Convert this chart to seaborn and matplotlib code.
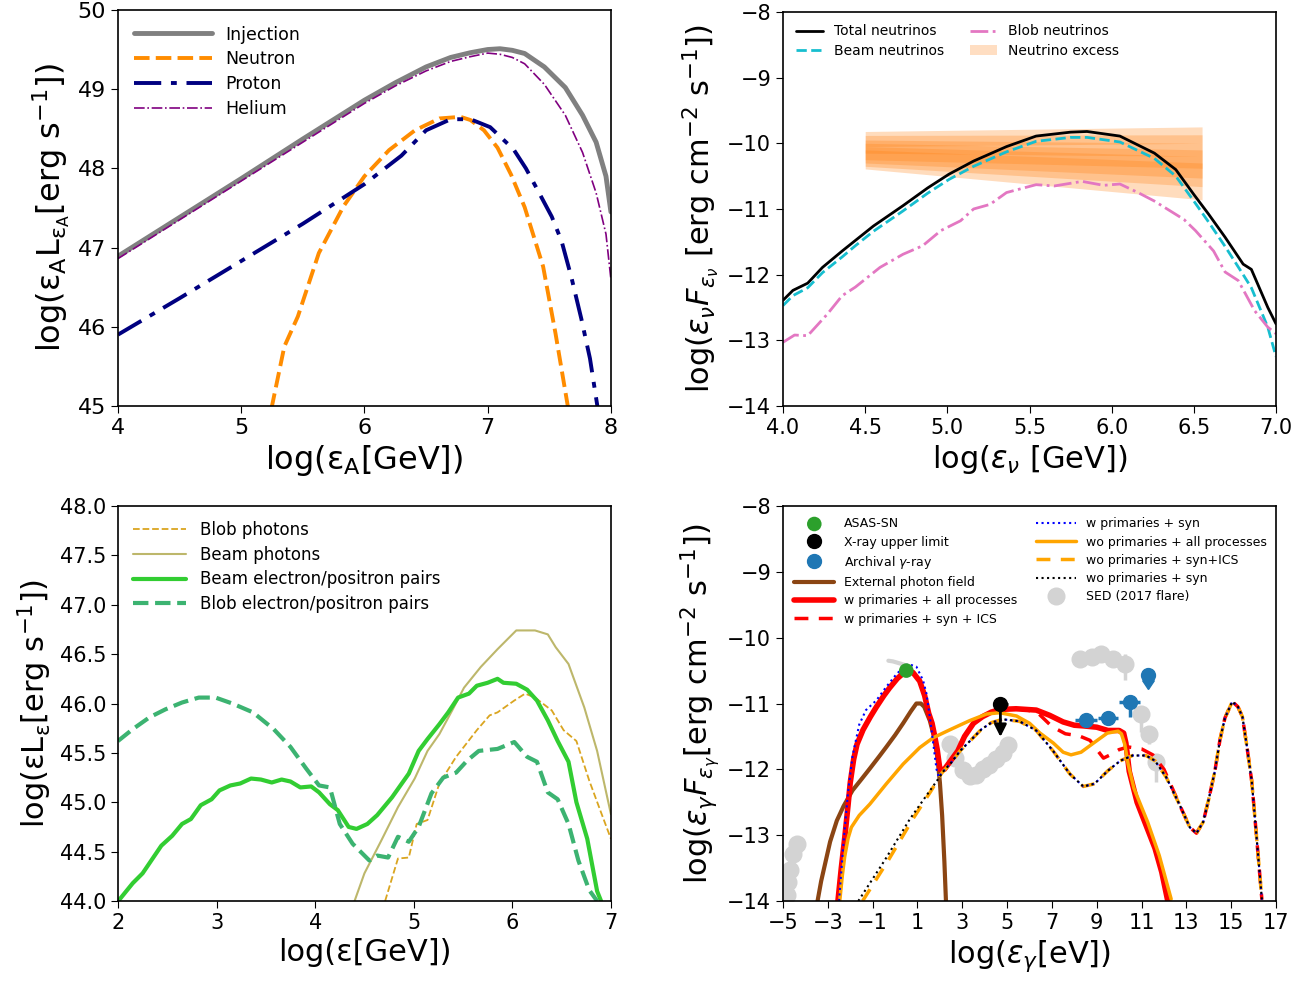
import numpy as np
import pandas as pd
import seaborn as sns
import matplotlib.pyplot as plt

# ---------------- panel a: nuclei spectra ----------------
inj_x = [4.0, 4.5, 5.0, 5.5, 6.0, 6.25, 6.5, 6.7, 6.86, 7.0, 7.1, 7.2, 7.3, 7.46, 7.63, 7.77, 7.88, 7.96, 8.0]
inj_y = [46.89, 47.38, 47.87, 48.37, 48.86, 49.08, 49.28, 49.40, 49.46, 49.50, 49.51, 49.49, 49.45, 49.28, 49.02, 48.67, 48.33, 47.9, 47.45]
he_y = [46.86, 47.35, 47.84, 48.33, 48.82, 49.04, 49.23, 49.35, 49.41, 49.455, 49.44, 49.40, 49.32, 49.06, 48.67, 48.2, 47.69, 47.17, 46.6]
neu_x = [5.2, 5.25, 5.35, 5.46, 5.63, 5.83, 6.0, 6.2, 6.41, 6.61, 6.78, 6.86, 6.97, 7.08, 7.19, 7.3, 7.39, 7.45, 7.55, 7.65, 7.7]
neu_y = [44.7, 45.0, 45.75, 46.13, 46.93, 47.52, 47.9, 48.23, 48.48, 48.63, 48.65, 48.61, 48.48, 48.26, 47.92, 47.51, 47.06, 46.76, 45.92, 45.0, 44.6]
pro_x = [4.0, 4.5, 5.0, 5.5, 6.0, 6.3, 6.5, 6.7, 6.86, 7.02, 7.21, 7.31, 7.39, 7.52, 7.6, 7.68, 7.76, 7.83, 7.89, 7.92]
pro_y = [45.9, 46.36, 46.83, 47.3, 47.8, 48.16, 48.48, 48.62, 48.62, 48.52, 48.24, 48.0, 47.77, 47.39, 47.08, 46.62, 46.1, 45.6, 45.0, 44.8]

# ---------------- panel b: neutrinos ----------------
tot_x = [4.0, 4.06, 4.15, 4.24, 4.36, 4.44, 4.55, 4.73, 4.88, 5.01, 5.16, 5.36, 5.54, 5.75, 5.85, 6.05, 6.26, 6.39, 6.5, 6.59, 6.69, 6.8, 6.85, 6.95, 7.0]
tot_y = [-12.39, -12.24, -12.13, -11.89, -11.64, -11.48, -11.26, -10.95, -10.68, -10.47, -10.27, -10.05, -9.89, -9.83, -9.82, -9.89, -10.15, -10.4, -10.78, -11.08, -11.43, -11.84, -11.92, -12.5, -12.75]
beam_nu_y = [-12.47, -12.32, -12.2, -11.97, -11.73, -11.56, -11.34, -11.03, -10.76, -10.55, -10.35, -10.13, -9.97, -9.91, -9.91, -9.98, -10.23, -10.5, -10.88, -11.2, -11.57, -12.0, -12.2, -12.8, -13.25]
blob_nu_x = [4.0, 4.07, 4.15, 4.27, 4.36, 4.44, 4.59, 4.73, 4.85, 4.96, 5.08, 5.16, 5.26, 5.36, 5.54, 5.65, 5.82, 5.95, 6.05, 6.16, 6.26, 6.44, 6.51, 6.62, 6.69, 6.77, 6.87, 6.95, 7.0]
blob_nu_y = [-13.03, -12.92, -12.93, -12.6, -12.32, -12.19, -11.89, -11.69, -11.56, -11.33, -11.18, -11.0, -10.93, -10.75, -10.63, -10.65, -10.58, -10.64, -10.62, -10.75, -10.88, -11.16, -11.33, -11.64, -11.96, -12.09, -12.55, -12.8, -12.9]
exc_x = [4.5, 6.55]
exc_left_lo = [-10.05, -10.15, -10.25, -10.3, -10.35, -10.39]
exc_left_hi = [-9.82, -9.88, -9.95, -10.0, -10.05, -10.1]
exc_right_lo = [-10.0, -10.2, -10.38, -10.53, -10.66, -10.86]
exc_right_hi = [-9.75, -9.87, -10.0, -10.1, -10.2, -10.3]

# ---------------- panel c: secondaries ----------------
bpair_x = [2.02, 2.15, 2.25, 2.44, 2.55, 2.65, 2.74, 2.84, 2.95, 3.03, 3.14, 3.24, 3.35, 3.45, 3.56, 3.66, 3.75, 3.85, 3.96, 4.04, 4.15, 4.23, 4.34, 4.42, 4.53, 4.63, 4.78, 4.95, 5.05, 5.14, 5.26, 5.35, 5.45, 5.56, 5.64, 5.75, 5.85, 5.91, 6.04, 6.15, 6.25, 6.36, 6.46, 6.57, 6.65, 6.76, 6.86, 6.9]
bpair_y = [44.02, 44.18, 44.28, 44.56, 44.66, 44.78, 44.83, 44.97, 45.03, 45.12, 45.17, 45.19, 45.24, 45.23, 45.2, 45.23, 45.21, 45.15, 45.16, 45.1, 44.98, 44.92, 44.75, 44.73, 44.78, 44.87, 45.05, 45.29, 45.52, 45.64, 45.79, 45.91, 46.06, 46.1, 46.18, 46.21, 46.25, 46.21, 46.2, 46.14, 46.03, 45.83, 45.62, 45.41, 45.0, 44.63, 44.1, 44.0]
blpair_x = [2.0, 2.15, 2.32, 2.48, 2.65, 2.82, 2.99, 3.16, 3.37, 3.58, 3.75, 3.91, 4.04, 4.15, 4.25, 4.38, 4.55, 4.63, 4.74, 4.84, 4.95, 5.05, 5.18, 5.3, 5.43, 5.54, 5.66, 5.85, 6.02, 6.15, 6.25, 6.36, 6.46, 6.57, 6.67, 6.78, 6.86]
blpair_y = [45.62, 45.74, 45.86, 45.94, 46.01, 46.06, 46.06, 46.0, 45.91, 45.74, 45.56, 45.34, 45.17, 45.15, 44.78, 44.58, 44.41, 44.46, 44.44, 44.65, 44.6, 44.75, 45.09, 45.25, 45.3, 45.42, 45.52, 45.54, 45.61, 45.46, 45.41, 45.1, 45.03, 44.78, 44.41, 44.11, 44.0]
bph_x = [4.4, 4.5, 4.67, 4.84, 5.01, 5.14, 5.26, 5.39, 5.51, 5.68, 5.85, 6.04, 6.23, 6.36, 6.44, 6.57, 6.73, 6.86, 7.0]
bph_y = [44.0, 44.28, 44.61, 44.95, 45.24, 45.52, 45.69, 45.93, 46.16, 46.37, 46.55, 46.74, 46.74, 46.7, 46.57, 46.4, 45.96, 45.52, 44.88]
blph_x = [4.71, 4.84, 4.95, 5.03, 5.14, 5.26, 5.43, 5.64, 5.77, 5.85, 6.02, 6.13, 6.23, 6.4, 6.52, 6.65, 6.78, 6.88, 7.0]
blph_y = [44.0, 44.43, 44.44, 44.78, 44.82, 45.19, 45.46, 45.73, 45.88, 45.91, 46.03, 46.1, 46.06, 45.93, 45.73, 45.62, 45.22, 44.95, 44.63]

# ---------------- panel d: photon SED ----------------
ext_x = [-3.46, -3.3, -3.14, -2.9, -2.6, -2.3, -1.9, -1.5, -1.13, -0.7, -0.39, 0.0, 0.36, 0.7, 0.95, 1.15, 1.3, 1.55, 1.75, 1.9, 2.0, 2.1, 2.2, 2.27]
ext_y = [-14.0, -13.7, -13.46, -13.1, -12.78, -12.56, -12.32, -12.15, -11.99, -11.8, -11.66, -11.48, -11.3, -11.12, -11.0, -11.0, -11.05, -11.26, -11.52, -11.85, -12.2, -12.7, -13.4, -14.0]
wall_x = [-2.55, -2.4, -2.25, -2.1, -2.0, -1.85, -1.7, -1.43, -1.1, -0.83, -0.5, -0.24, 0.1, 0.5, 0.8, 1.1, 1.32, 1.5, 1.65, 1.77, 1.88, 2.0, 2.2, 2.5, 2.8, 3.1, 3.5, 3.9, 4.3, 4.7, 5.4, 6.3, 6.9, 7.5, 8.0, 8.4, 9.0, 9.5, 10.0, 10.2, 10.3, 10.45, 10.8, 11.2, 11.6, 11.9, 12.17]
wall_y = [-14.0, -13.5, -13.05, -12.55, -12.2, -11.85, -11.62, -11.4, -11.2, -11.05, -10.88, -10.76, -10.62, -10.5, -10.53, -10.66, -10.88, -11.15, -11.3, -11.5, -11.7, -12.0, -12.0, -11.86, -11.72, -11.5, -11.3, -11.2, -11.13, -11.09, -11.08, -11.1, -11.18, -11.28, -11.33, -11.34, -11.36, -11.41, -11.41, -11.45, -11.6, -12.03, -12.5, -12.85, -13.2, -13.56, -14.0]
wics_x = [-2.55, -2.4, -2.25, -2.1, -2.0, -1.85, -1.7, -1.43, -1.1, -0.83, -0.5, -0.24, 0.1, 0.5, 0.8, 1.1, 1.32, 1.5, 1.65, 1.77, 1.88, 2.0, 2.2, 2.5, 2.8, 3.1, 3.5, 3.9, 4.3, 4.7, 5.4, 6.3, 7.0, 7.6, 8.2, 8.7, 9.05, 9.3, 9.6, 10.0, 10.4, 11.0, 11.5, 12.0, 12.7, 13.15, 13.45, 13.75, 14.0, 14.27, 14.5, 14.72, 15.05, 15.3, 15.5, 15.7, 15.92, 16.15, 16.37]
wics_y = [-14.0, -13.5, -13.05, -12.55, -12.2, -11.85, -11.62, -11.4, -11.2, -11.05, -10.88, -10.76, -10.62, -10.5, -10.53, -10.66, -10.88, -11.15, -11.3, -11.5, -11.7, -12.0, -12.0, -11.86, -11.72, -11.5, -11.3, -11.2, -11.13, -11.09, -11.08, -11.12, -11.35, -11.46, -11.49, -11.56, -11.72, -11.83, -11.78, -11.7, -11.66, -11.69, -11.78, -12.0, -12.54, -12.88, -12.97, -12.8, -12.45, -12.03, -11.55, -11.22, -10.97, -11.05, -11.2, -11.65, -12.19, -13.1, -13.98]
wsyn_x = [-2.5, -2.3, -2.1, -1.9, -1.6, -1.3, -0.83, -0.4, 0.0, 0.3, 0.58, 0.95, 1.25, 1.4, 1.55, 1.7, 1.85, 1.95, 2.1, 2.5, 2.9, 3.4, 3.86, 4.3, 4.8, 5.55, 6.3, 7.05, 7.8, 8.4, 8.9, 9.5, 10.05, 10.6, 11.2, 11.6, 12.1, 12.7, 13.15, 13.45, 13.75, 14.0, 14.27, 14.5, 14.72, 15.05, 15.3, 15.5, 15.7, 15.92, 16.15, 16.37]
wsyn_y = [-14.0, -13.1, -12.35, -11.8, -11.32, -11.1, -10.95, -10.75, -10.58, -10.47, -10.4, -10.44, -10.65, -10.85, -11.2, -11.6, -12.0, -12.12, -12.05, -11.9, -11.72, -11.55, -11.39, -11.29, -11.24, -11.27, -11.41, -11.72, -12.07, -12.26, -12.22, -12.02, -11.87, -11.79, -11.79, -11.87, -12.12, -12.54, -12.88, -12.97, -12.8, -12.45, -12.03, -11.55, -11.22, -10.97, -11.05, -11.2, -11.65, -12.19, -13.1, -13.98]
woall_x = [-2.47, -2.35, -2.25, -2.1, -1.95, -1.6, -1.13, -0.39, 0.36, 1.1, 1.7, 2.44, 3.33, 4.08, 4.67, 5.42, 6.0, 6.47, 7.06, 7.5, 7.85, 8.3, 8.86, 9.47, 9.95, 10.1, 10.25, 10.4, 10.66, 11.27, 11.79, 12.32]
woall_y = [-14.0, -13.6, -13.33, -13.05, -12.88, -12.7, -12.53, -12.22, -11.92, -11.67, -11.52, -11.4, -11.26, -11.16, -11.14, -11.19, -11.3, -11.45, -11.6, -11.74, -11.78, -11.74, -11.6, -11.45, -11.42, -11.46, -11.62, -11.92, -12.29, -12.8, -13.31, -13.97]
wosyn_x = [-1.64, -0.46, 0.67, 1.5, 1.98, 2.1, 2.5, 2.9, 3.4, 3.86, 4.3, 4.8, 5.55, 6.3, 7.05, 7.8, 8.4, 8.9, 9.5, 10.05, 10.6, 11.2, 11.6, 12.1, 12.7, 13.15, 13.45, 13.75, 14.0, 14.27, 14.5, 14.72, 15.05, 15.3, 15.5, 15.7, 15.92, 16.15, 16.37]
wosyn_y = [-14.0, -13.38, -12.75, -12.35, -12.12, -12.05, -11.9, -11.72, -11.55, -11.39, -11.29, -11.24, -11.27, -11.41, -11.72, -12.07, -12.26, -12.22, -12.02, -11.87, -11.79, -11.79, -11.87, -12.12, -12.54, -12.88, -12.97, -12.8, -12.45, -12.03, -11.55, -11.22, -10.97, -11.05, -11.2, -11.65, -12.19, -13.1, -13.98]
woics_x = [-1.45, -0.3, 0.8, 1.6, 2.0, 2.1, 2.5, 2.9, 3.4, 3.86, 4.3, 4.8, 5.55, 6.3, 7.05, 7.8, 8.4, 8.9, 9.5, 10.05, 10.6, 11.2, 11.6, 12.1, 12.7, 13.15, 13.45, 13.75, 14.0, 14.27, 14.5, 14.72, 15.05, 15.3, 15.5, 15.7, 15.92, 16.15, 16.37]
woics_y = [-14.0, -13.38, -12.75, -12.33, -12.1, -12.05, -11.9, -11.72, -11.55, -11.39, -11.29, -11.24, -11.27, -11.41, -11.72, -12.07, -12.26, -12.22, -12.02, -11.87, -11.79, -11.79, -11.87, -12.12, -12.54, -12.88, -12.97, -12.8, -12.45, -12.03, -11.55, -11.22, -10.97, -11.05, -11.2, -11.65, -12.19, -13.1, -13.98]

asas_x, asas_y = [0.5], [-10.5]
xul_x, xul_y, xul_xerr, xul_len = [4.7], [-11.0], [0.35], [0.55]
arch_x = [8.52, 9.5, 10.47]
arch_y = [-11.25, -11.22, -10.97]
arch_xerr = [0.48, 0.45, 0.47]
arch_yerr_lo = [0.0, 0.0, 0.24]
arch_yerr_hi = [0.0, 0.0, 0.09]
arch_ul_x, arch_ul_y = [11.3], [-10.57]
sed_x = [-4.84, -4.76, -4.69, -4.54, -4.39, 2.45, 2.68, 3.05, 3.35, 3.62, 3.93, 4.2, 4.5, 4.8, 5.03, 8.27, 8.79, 9.21, 9.73, 10.24, 10.97, 11.35, 11.64]
sed_y = [-13.91, -13.71, -13.53, -13.28, -13.13, -11.61, -11.83, -12.01, -12.1, -12.08, -12.0, -11.93, -11.85, -11.75, -11.63, -10.33, -10.29, -10.25, -10.33, -10.4, -11.16, -11.46, -11.89]
sed_err_lo = [0, 0, 0, 0, 0, 0, 0, 0, 0, 0, 0, 0, 0, 0, 0, 0, 0, 0, 0, 0.25, 0.27, 0.15, 0.3]
sed_err_hi = [0, 0, 0, 0, 0, 0, 0, 0, 0, 0, 0, 0, 0, 0, 0, 0, 0, 0, 0, 0.15, 0.1, 0.1, 0.1]
opt_x = [-0.3, -0.1, 0.1, 0.3, 0.48]
opt_y = [-10.35, -10.36, -10.38, -10.4, -10.42]

sns.set_style("ticks")
plt.rcParams.update({
    "font.family": ["DejaVu Sans"],
    "axes.edgecolor": "black", "axes.labelcolor": "black",
    "xtick.color": "black", "ytick.color": "black", "text.color": "black",
    "axes.linewidth": 1.2, "xtick.major.size": 5, "ytick.major.size": 5,
    "xtick.direction": "out", "ytick.direction": "out",
})

fig = plt.figure(figsize=(13.09, 9.82), dpi=100)
ax1 = fig.add_axes([0.0901, 0.5866, 0.3766, 0.4033])
ax2 = fig.add_axes([0.5982, 0.5866, 0.3766, 0.4012])
ax3 = fig.add_axes([0.0901, 0.0825, 0.3766, 0.4022])
ax4 = fig.add_axes([0.5982, 0.0825, 0.3766, 0.4022])


def line(ax, x, y, **kw):
    sns.lineplot(x=x, y=y, ax=ax, sort=False, estimator=None, **kw)


# panel a
line(ax1, inj_x, inj_y, color="gray", lw=3.5, label="Injection")
line(ax1, neu_x, neu_y, color="darkorange", lw=2.8, linestyle=(0, (4, 1.6)), label="Neutron")
line(ax1, pro_x, pro_y, color="navy", lw=2.8, linestyle=(0, (7, 2.5, 1.5, 2.5)), label="Proton")
line(ax1, inj_x, he_y, color="purple", lw=1.2, linestyle="-.", label="Helium")
ax1.set_xlim(4, 8)
ax1.set_ylim(45, 50)
ax1.set_xticks([4, 5, 6, 7, 8])
ax1.set_yticks([45, 46, 47, 48, 49, 50])
ax1.tick_params(labelsize=16)
ax1.set_xlabel(r"log(ε$_\mathrm{A}$[GeV])", fontsize=23)
ax1.set_ylabel(r"log(ε$_\mathrm{A}$L$_{\mathrm{ε_A}}$[erg s$^{-1}$])", fontsize=23)
ax1.legend(loc="upper left", frameon=False, fontsize=12.5, handlelength=4.5, labelspacing=0.4)

# panel b
for lo_l, hi_l, lo_r, hi_r in zip(exc_left_lo, exc_left_hi, exc_right_lo, exc_right_hi):
    ax2.fill_between(exc_x, [lo_l, lo_r], [hi_l, hi_r], color="tab:orange", alpha=0.27, lw=0)
line(ax2, tot_x, tot_y, color="black", lw=2, label="Total neutrinos")
line(ax2, tot_x, beam_nu_y, color="tab:cyan", lw=2, linestyle="--", label="Beam neutrinos")
line(ax2, blob_nu_x, blob_nu_y, color="tab:pink", lw=2, linestyle="-.", label="Blob neutrinos")
ax2.fill_between([], [], [], color="tab:orange", alpha=0.25, lw=0, label="Neutrino excess")
ax2.set_xlim(4, 7)
ax2.set_ylim(-14, -8)
ax2.set_xticks([4.0, 4.5, 5.0, 5.5, 6.0, 6.5, 7.0])
ax2.set_xticklabels(["4.0", "4.5", "5.0", "5.5", "6.0", "6.5", "7.0"])
ax2.set_yticks([-14, -13, -12, -11, -10, -9, -8])
ax2.tick_params(labelsize=15)
ax2.set_xlabel(r"log($\epsilon_\nu$ [GeV])", fontsize=22)
ax2.set_ylabel(r"log($\epsilon_\nu F_{\epsilon_\nu}$ [erg cm$^{-2}$ s$^{-1}$])", fontsize=22)
h, l = ax2.get_legend_handles_labels()
order = [l.index(k) for k in ["Total neutrinos", "Beam neutrinos", "Blob neutrinos", "Neutrino excess"]]
ax2.legend([h[i] for i in order], [l[i] for i in order], loc="upper left", ncol=2,
           frameon=False, fontsize=10, columnspacing=1.8, labelspacing=0.4)

# panel c
line(ax3, blph_x, blph_y, color="goldenrod", lw=1.3, linestyle="--", label="Blob photons")
line(ax3, bph_x, bph_y, color="darkkhaki", lw=1.5, label="Beam photons")
line(ax3, bpair_x, bpair_y, color="limegreen", lw=3, label="Beam electron/positron pairs")
line(ax3, blpair_x, blpair_y, color="mediumseagreen", lw=3, linestyle="--",
     label="Blob electron/positron pairs")
ax3.set_xlim(2, 7)
ax3.set_ylim(44, 48)
ax3.set_xticks([2, 3, 4, 5, 6, 7])
ax3.set_yticks(np.arange(44, 48.01, 0.5))
ax3.set_yticklabels([f"{v:.1f}" for v in np.arange(44, 48.01, 0.5)])
ax3.tick_params(labelsize=15)
ax3.set_xlabel(r"log(ε[GeV])", fontsize=22)
ax3.set_ylabel(r"log(εL$_\mathrm{ε}$[erg s$^{-1}$])", fontsize=22)
ax3.legend(loc="upper left", frameon=False, fontsize=12, handlelength=3.2, labelspacing=0.4)

# panel d
line(ax4, ext_x, ext_y, color="saddlebrown", lw=3, label="External photon field")
line(ax4, wall_x, wall_y, color="red", lw=4, label="w primaries + all processes")
line(ax4, wics_x, wics_y, color="red", lw=2.5, linestyle=(0, (4, 3)), label="w primaries + syn + ICS")
line(ax4, woall_x, woall_y, color="orange", lw=2.5, label="wo primaries + all processes")
line(ax4, woics_x, woics_y, color="orange", lw=2.5, linestyle=(0, (4, 3)),
     label="wo primaries + syn+ICS")
line(ax4, wsyn_x, wsyn_y, color="blue", lw=1.5, linestyle=":", label="w primaries + syn")
line(ax4, wosyn_x, wosyn_y, color="black", lw=1.5, linestyle=":", label="wo primaries + syn")

ax4.errorbar(sed_x, sed_y, yerr=[sed_err_lo, sed_err_hi], fmt="o", color="lightgrey",
             ms=12, elinewidth=2.5, zorder=1, label="SED (2017 flare)")
ax4.plot(opt_x, opt_y, color="lightgrey", lw=3, zorder=1)
sns.scatterplot(x=asas_x, y=asas_y, ax=ax4, color="tab:green", s=110, edgecolor="none",
                zorder=5, label="ASAS-SN")
ax4.errorbar(xul_x, xul_y, xerr=xul_xerr, fmt="o", color="black", ms=10, elinewidth=2,
             zorder=6, label="X-ray upper limit")
for x0, y0, d in zip(xul_x, xul_y, xul_len):
    ax4.annotate("", xy=(x0, y0 - d), xytext=(x0, y0),
                 arrowprops=dict(arrowstyle="-|>", color="black", lw=2, mutation_scale=18),
                 zorder=6)
ax4.errorbar(arch_x, arch_y, xerr=arch_xerr, yerr=[arch_yerr_lo, arch_yerr_hi], fmt="o",
             color="tab:blue", ms=10, elinewidth=2.5, zorder=6, label="Archival $\\gamma$-ray")
ax4.errorbar(arch_ul_x, arch_ul_y, yerr=0.07, uplims=True, fmt="o", color="tab:blue", ms=10,
             elinewidth=2.5, capsize=4.5, zorder=6)

ax4.set_xlim(-5, 17)
ax4.set_ylim(-14, -8)
ax4.set_xticks(np.arange(-5, 18, 2))
ax4.set_xticklabels([f"{v}".replace("-", "\u2212") for v in range(-5, 18, 2)])
ax4.set_yticks([-14, -13, -12, -11, -10, -9, -8])
ax4.tick_params(labelsize=15)
ax4.set_xlabel(r"log($\epsilon_\gamma$[eV])", fontsize=22)
ax4.set_ylabel(r"log($\epsilon_\gamma F_{\epsilon_\gamma}$[erg cm$^{-2}$ s$^{-1}$])", fontsize=22)
h, l = ax4.get_legend_handles_labels()
names = ["ASAS-SN", "X-ray upper limit", "Archival $\\gamma$-ray", "External photon field",
         "w primaries + all processes", "w primaries + syn + ICS", "w primaries + syn",
         "wo primaries + all processes", "wo primaries + syn+ICS", "wo primaries + syn",
         "SED (2017 flare)"]
order = [l.index(k) for k in names]
leg = ax4.legend([h[i] for i in order], [l[i] for i in order], loc="upper left", ncol=2,
                 frameon=False, fontsize=9, handlelength=3.2, columnspacing=1.5,
                 labelspacing=0.42)

fig.savefig("out.png", dpi=100)
